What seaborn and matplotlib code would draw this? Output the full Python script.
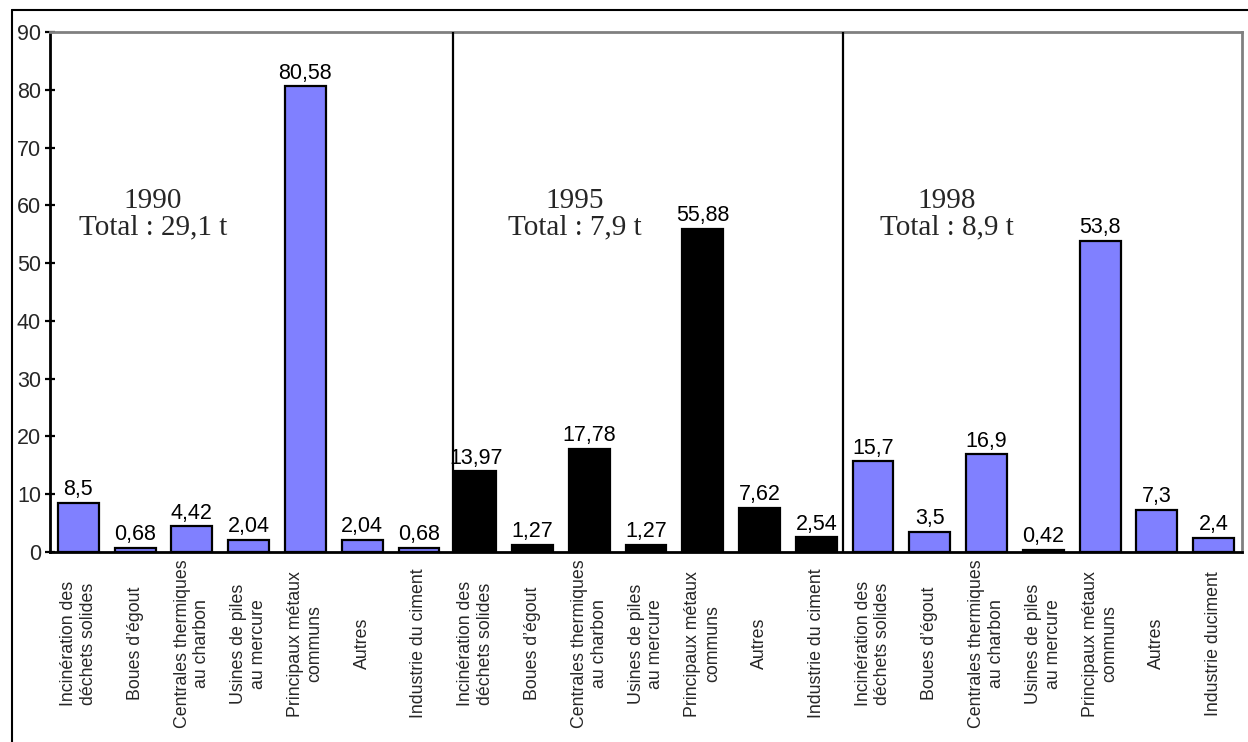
import matplotlib
matplotlib.use("Agg")
import matplotlib.pyplot as plt
from matplotlib.lines import Line2D
import seaborn as sns
import pandas as pd

# Mercury emissions by source (%), three reference years
years = [1990, 1995, 1998]
totals = ["Total : 29,1 t", "Total : 7,9 t", "Total : 8,9 t"]
sources = [
    "Incinération des\ndéchets solides",
    "Boues d\u2019égout",
    "Centrales thermiques\nau charbon",
    "Usines de piles\nau mercure",
    "Principaux métaux\ncommuns",
    "Autres",
    "Industrie du ciment",
]
sources_1998 = sources[:6] + ["Industrie duciment"]
values_1990 = [8.5, 0.68, 4.42, 2.04, 80.58, 2.04, 0.68]
values_1995 = [13.97, 1.27, 17.78, 1.27, 55.88, 7.62, 2.54]
values_1998 = [15.7, 3.5, 16.9, 0.42, 53.8, 7.3, 2.4]
y_ticks = list(range(0, 91, 10))

rows = []
for year, labels, vals in zip(years, [sources, sources, sources_1998],
                              [values_1990, values_1995, values_1998]):
    for lab, v in zip(labels, vals):
        rows.append({"key": f"{year}|{lab}", "label": lab, "year": str(year), "value": v})
df = pd.DataFrame(rows)

sns.set_style("white")
plt.rcParams["font.family"] = ["Liberation Sans", "DejaVu Sans"]

fig = plt.figure(figsize=(12.48, 7.42), dpi=100)
ax = fig.add_axes([50 / 1248, 1 - 552 / 742, 1192 / 1248, 520 / 742])

blue = "#8080FF"
palette = {"1990": blue, "1995": "black", "1998": blue}
sns.barplot(data=df, x="key", y="value", hue="year", palette=palette,
            dodge=False, width=0.72, edgecolor="black", linewidth=1.6,
            legend=False, saturation=1, ax=ax)

for cont in ax.containers:
    labs = [f"{round(v, 2):g}".replace(".", ",") for v in cont.datavalues]
    ax.bar_label(cont, labels=labs, padding=2, fontsize=15.5, color="black")

ax.set_xlim(-0.5, len(df) - 0.5)
ax.set_ylim(0, 90)
ax.set_yticks(y_ticks)
ax.set_yticklabels([str(t) for t in y_ticks], fontsize=15.5)
ax.set_ylabel("")
ax.set_xlabel("")

# category labels centred under each bar, tick marks on the boundaries
ax.set_xticks(range(len(df)))
ax.set_xticklabels(df["label"], rotation=90, fontsize=12.8,
                   va="center", ha="center", multialignment="center")
ax.set_xticks([i - 0.5 for i in range(len(df) + 1)], minor=True)
ax.tick_params(axis="x", which="major", length=0, pad=66)
ax.tick_params(axis="x", which="minor", direction="inout", length=8,
               width=1.6, color="black")
ax.tick_params(axis="y", direction="inout", length=7, width=1.6,
               color="black", pad=3, left=True)

for side in ["left", "bottom"]:
    ax.spines[side].set_color("black")
    ax.spines[side].set_linewidth(2)
for side in ["top", "right"]:
    ax.spines[side].set_color("#808080")
    ax.spines[side].set_linewidth(2)

# year separators
for xs in [6.6, 13.47]:
    ax.axvline(xs, color="black", lw=1.6, zorder=3)

# year / total annotations
for year, tot, xc in zip(years, totals, [1.31, 8.75, 15.3]):
    ax.text(xc, 60.8, str(year), ha="center", va="center",
            family="Liberation Serif", fontsize=21)
    ax.text(xc, 56.1, tot, ha="center", va="center",
            family="Liberation Serif", fontsize=21)

# outer frame
fig.add_artist(Line2D([12 / 1248, 12 / 1248], [0, 1 - 10 / 742],
                      transform=fig.transFigure, color="black", lw=1.5))
fig.add_artist(Line2D([12 / 1248, 1], [1 - 10 / 742, 1 - 10 / 742],
                      transform=fig.transFigure, color="black", lw=1.5))

fig.savefig("out.png", dpi=100, facecolor="white")
